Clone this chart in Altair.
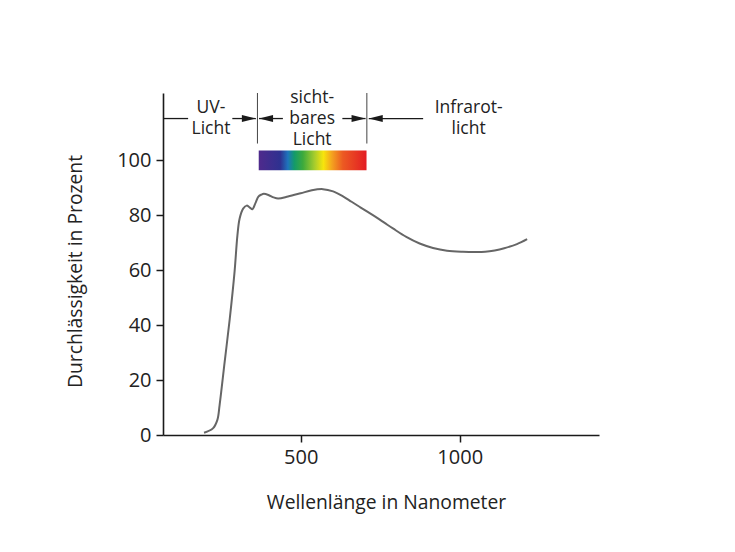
import altair as alt
import pandas as pd

# --- transmission curve ---
wavelength_nm = [196, 224, 238, 245, 261, 277, 292, 301, 308, 319,
                 330, 340, 348, 358, 367, 376, 384, 400, 415, 429,
                 460, 500, 535, 570, 602, 633, 660, 686, 712, 738,
                 764, 790, 832, 874, 916, 960, 1010, 1050, 1080, 1110,
                 1140, 1180, 1212]
transmission_pct = [0.8, 2.4, 5.5, 10.9, 26.7, 42.4, 59.4, 72.7, 78.8, 82.4,
                    83.5, 82.8, 82.2, 84.5, 86.8, 87.5, 87.8, 87.3, 86.5, 86.1,
                    86.8, 88.0, 89.1, 89.5, 88.7, 86.9, 84.9, 83.0, 81.1, 79.2,
                    77.2, 75.2, 72.1, 69.7, 68.1, 67.1, 66.7, 66.6, 66.7, 67.2,
                    68.0, 69.5, 71.3]

# --- region annotation (in data units) ---
region_labels = ["UV-\nLicht", "sicht-\nbares\nLicht", "Infrarot-\nlicht"]
region_label_nm = [218, 536, 1028]
band_level_pct = 115.2
boundary_nm = [364, 708]
boundary_top_pct = 124.5
boundary_bottom_pct = 106.1
segment_start_nm = [67, 285, 369, 631, 714]
segment_end_nm = [146, 359, 444, 704, 885]
arrow_tip_nm = [359, 369, 704, 714]
arrow_dir = ["right", "left", "right", "left"]
spectrum_nm = [368, 707]
spectrum_pct = [96.4, 103.6]

x_ticks = [500, 1000]
y_ticks = [0, 20, 40, 60, 80, 100]

TEXT = "#222222"
AXIS = "#1a1a1a"
FONT = "Open Sans"
LINE_H = 21

xscale = alt.Scale(domain=[67, 1438], nice=False, zero=False)
yscale = alt.Scale(domain=[0, 124.5], nice=False, zero=False)

curve_df = pd.DataFrame({"wl": wavelength_nm, "t": transmission_pct})

curve = alt.Chart(curve_df).mark_line(
    color="#666666", strokeWidth=2, interpolate="catmull-rom"
).encode(
    x=alt.X("wl:Q", scale=xscale, axis=alt.Axis(
        values=x_ticks, format="d", grid=False, domainColor=AXIS, domainWidth=1.6,
        tickColor=AXIS, tickWidth=1.5, tickSize=7, labelFontSize=20,
        labelColor=TEXT, labelFont=FONT, labelPadding=5,
        title="Wellenlänge in Nanometer", titleFont=FONT, titleFontSize=19.3,
        titleFontWeight="normal", titleColor=TEXT, titleX=223, titleY=67,
        titleBaseline="middle", titleAlign="center")),
    y=alt.Y("t:Q", scale=yscale, axis=alt.Axis(
        values=y_ticks, grid=False, domainColor=AXIS, domainWidth=1.6,
        tickColor=AXIS, tickWidth=1.5, tickSize=7, labelFontSize=20,
        labelColor=TEXT, labelFont=FONT, labelPadding=5,
        title="Durchlässigkeit in Prozent", titleFont=FONT, titleFontSize=19.3,
        titleFontWeight="normal", titleColor=TEXT, titleX=-88, titleY=178,
        titleBaseline="middle", titleAlign="center", titleAngle=270)),
)

seg_df = pd.DataFrame({"x": segment_start_nm, "x2": segment_end_nm,
                       "y": [band_level_pct] * len(segment_start_nm)})
segments = alt.Chart(seg_df).mark_rule(color=AXIS, strokeWidth=1.3).encode(
    x=alt.X("x:Q", scale=xscale), x2="x2:Q", y=alt.Y("y:Q", scale=yscale))

bound_df = pd.DataFrame({"x": boundary_nm,
                         "y": [boundary_bottom_pct] * 2,
                         "y2": [boundary_top_pct] * 2})
bounds = alt.Chart(bound_df).mark_rule(color="#444444", strokeWidth=1).encode(
    x=alt.X("x:Q", scale=xscale), y=alt.Y("y:Q", scale=yscale), y2="y2:Q")

arrow_df = pd.DataFrame({"x": arrow_tip_nm, "y": [band_level_pct] * 4,
                         "dir": arrow_dir})
right_shape = "M0,0 L-2,-0.5 L-2,0.5 Z"
left_shape = "M0,0 L2,-0.5 L2,0.5 Z"
arrows = alt.Chart(arrow_df).mark_point(
    filled=True, size=196, opacity=1, color=AXIS, strokeWidth=0
).encode(
    x=alt.X("x:Q", scale=xscale), y=alt.Y("y:Q", scale=yscale),
    shape=alt.Shape("dir:N", scale=alt.Scale(domain=["right", "left"],
                                             range=[right_shape, left_shape]),
                    legend=None),
)

label_df = pd.DataFrame({"x": region_label_nm, "y": [band_level_pct] * 3,
                         "label": region_labels,
                         "n": [s.count("\n") + 1 for s in region_labels]})
label_layers = []
for n in sorted(set(label_df["n"])):
    label_layers.append(
        alt.Chart(label_df[label_df["n"] == n]).mark_text(
            font=FONT, fontSize=17.5, color=TEXT, lineBreak="\n",
            lineHeight=LINE_H, align="center", baseline="middle",
            dy=-(n - 1) * LINE_H / 2,
        ).encode(x=alt.X("x:Q", scale=xscale), y=alt.Y("y:Q", scale=yscale),
                 text="label:N")
    )

spec_df = pd.DataFrame({"x": [spectrum_nm[0]], "x2": [spectrum_nm[1]],
                        "y": [spectrum_pct[0]], "y2": [spectrum_pct[1]]})
gradient = alt.LinearGradient(
    gradient="linear", x1=0, x2=1, y1=0, y2=0,
    stops=[
        alt.GradientStop(color="#4f2a8c", offset=0.0),
        alt.GradientStop(color="#2e3190", offset=0.2),
        alt.GradientStop(color="#1f74bd", offset=0.27),
        alt.GradientStop(color="#139a6a", offset=0.33),
        alt.GradientStop(color="#3daa3c", offset=0.41),
        alt.GradientStop(color="#a9cd2c", offset=0.52),
        alt.GradientStop(color="#f7e50c", offset=0.6),
        alt.GradientStop(color="#f4a11f", offset=0.68),
        alt.GradientStop(color="#ec5a22", offset=0.78),
        alt.GradientStop(color="#e31c24", offset=1.0),
    ])
spectrum = alt.Chart(spec_df).mark_rect(color=gradient).encode(
    x=alt.X("x:Q", scale=xscale), x2="x2:Q",
    y=alt.Y("y:Q", scale=yscale), y2="y2:Q")

chart = alt.layer(curve, spectrum, segments, bounds, arrows, *label_layers).properties(
    width=436, height=342,
    padding={"left": 155, "top": 85, "right": 120, "bottom": 105},
    autosize=alt.AutoSizeParams(type="none"),
    background="white",
).configure_view(stroke=None)

chart.save("out.html", embed_options={"renderer": "svg", "actions": False})
